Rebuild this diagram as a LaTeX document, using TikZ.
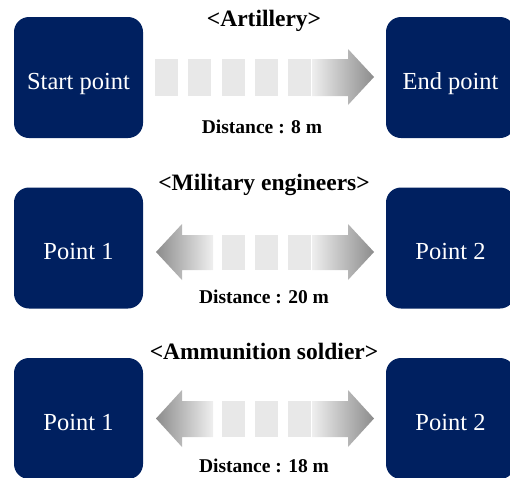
\documentclass[tikz,border=0pt]{standalone}
\usepackage{fontspec}
\setmainfont{Liberation Serif}
\usepackage{tikz}
\definecolor{navy}{HTML}{002060}
\definecolor{sqgray}{HTML}{E8E8E8}
\definecolor{lightg}{HTML}{EFEFEF}
\definecolor{darkg}{HTML}{8C8C8C}
\tikzset{
  post/.style={fill=navy, rounded corners=15pt, minimum width=129pt, minimum height=121pt,
    inner sep=0pt, text=white, text height=23pt, text depth=0pt,
    font=\fontsize{24.5}{28}\selectfont},
  title/.style={font=\bfseries\fontsize{23.5}{26}\selectfont, inner sep=0pt},
  dist/.style={font=\bfseries\fontsize{19.5}{22}\selectfont, inner sep=0pt},
  sq/.style={fill=sqgray},
}

\begin{document}
\begin{tikzpicture}[x=1pt,y=-1pt]
  \useasboundingbox (0,0) rectangle (510,477);

  % row 1: artillery
  \node[post] (start) at (78.5,77.5) {Start point};
  \node[post] (end) at (450.5,77.5) {End point};
  \node[title] (t1) at (264,21) {<Artillery>};
  \node[dist] (d1) at (262,127) {Distance : 8 m};
  \foreach \x in {155,188,222,255,288}
    \fill[sq] (\x,59) rectangle ++(23,37);
  \shade[left color=lightg, right color=darkg]
    (312,59) -- (348,59) -- (348,49) -- (374,77) -- (348,105) -- (348,96) -- (312,96) -- cycle;

  % row 2: military engineers
  \node[post] (p1a) at (78.5,248) {Point 1};
  \node[post] (p2a) at (450.5,248) {Point 2};
  \node[title] (t2) at (264,185) {<Military engineers>};
  \node[dist] (d2) at (264,297) {Distance : 20 m};
  \foreach \x in {222,255,288}
    \fill[sq] (\x,235) rectangle ++(23,35);
  \shade[left color=darkg, right color=lightg]
    (213,235) -- (182,235) -- (182,224) -- (156,252) -- (182,280) -- (182,270) -- (213,270) -- cycle;
  \shade[left color=lightg, right color=darkg]
    (312,235) -- (348,235) -- (348,224) -- (374,252) -- (348,280) -- (348,270) -- (312,270) -- cycle;

  % row 3: ammunition soldier
  \node[post] (p1b) at (78.5,418.5) {Point 1};
  \node[post] (p2b) at (450.5,418.5) {Point 2};
  \node[title] (t3) at (264,351) {<Ammunition soldier>};
  \node[dist] (d3) at (264,466) {Distance : 18 m};
  \foreach \x in {222,255,288}
    \fill[sq] (\x,401) rectangle ++(23,36);
  \shade[left color=darkg, right color=lightg]
    (213,401) -- (182,401) -- (182,390) -- (156,418.5) -- (182,447) -- (182,437) -- (213,437) -- cycle;
  \shade[left color=lightg, right color=darkg]
    (312,401) -- (348,401) -- (348,390) -- (374,418.5) -- (348,447) -- (348,437) -- (312,437) -- cycle;
\end{tikzpicture}
\end{document}
